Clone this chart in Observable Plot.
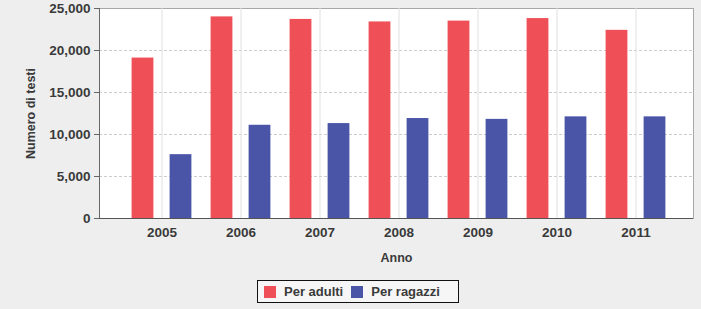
<!DOCTYPE html>
<html>
<head>
<meta charset="utf-8">
<script src="https://cdn.jsdelivr.net/npm/d3@7"></script>
<script src="https://cdn.jsdelivr.net/npm/@observablehq/plot@0.6"></script>
<style>
  html, body { margin: 0; padding: 0; background: #eeeeee; }
  body { width: 701px; height: 309px; overflow: hidden; font-family: "Liberation Sans", Arial, sans-serif; }
  #legend { position: absolute; left: 257px; top: 280px; width: 194px; height: 21px; border: 1.5px solid #111;
    background: #f6f6f6; display: flex; align-items: center; padding-left: 6px; gap: 8px;
    font-size: 13px; font-weight: bold; color: #3a3a3a; box-sizing: content-box; }
  #legend .item { display: flex; align-items: center; gap: 8px; white-space: nowrap; }
  #legend span.sw { display: inline-block; width: 12px; height: 12px; }
</style>
</head>
<body>
<div id="chart"></div>
<div id="legend"></div>
<script>
const years = ["2005", "2006", "2007", "2008", "2009", "2010", "2011"];
const series = ["Per adulti", "Per ragazzi"];
const adulti = [19100, 24000, 23700, 23400, 23500, 23800, 22400];
const ragazzi = [7600, 11100, 11300, 11900, 11800, 12100, 12100];
const colors = ["#ef4f57", "#4b55a7"];
const yTicks = [0, 5000, 10000, 15000, 20000, 25000];

const data = years.flatMap((y, i) => [
  {year: y, series: series[0], value: adulti[i]},
  {year: y, series: series[1], value: ragazzi[i]}
]);

const chart = Plot.plot({
  width: 701,
  height: 272,
  marginLeft: 99,
  marginRight: 8,
  marginTop: 8,
  marginBottom: 54,
  style: {background: "transparent", fontSize: "13px", color: "#3a3a3a", fontFamily: "'Liberation Sans', Arial, sans-serif", fontWeight: "bold"},
  x: {type: "band", domain: years, paddingInner: 0, paddingOuter: 0.25, align: 0.55, label: null},
  y: {domain: [0, 25000], label: null},
  color: {domain: series, range: colors},
  marks: [
    Plot.frame({fill: "white", stroke: "#a8a8a8"}),
    Plot.gridY(yTicks.slice(1, -1), {stroke: "#cccccc", strokeOpacity: 1, strokeDasharray: "3,2"}),
    Plot.gridX({stroke: "#e0e0e0", strokeOpacity: 1}),
    Plot.barY(data.filter(d => d.series === series[0]), {x: "year", y: "value", fill: "series", dx: -19, insetLeft: 28.6, insetRight: 28.6}),
    Plot.barY(data.filter(d => d.series === series[1]), {x: "year", y: "value", fill: "series", dx: 19, insetLeft: 28.6, insetRight: 28.6}),
    Plot.axisY({ticks: yTicks, tickFormat: d3.format(","), tickSize: 5, tickPadding: 4, fill: "#3a3a3a", stroke: "#666", fontSize: 13.5, label: null}),
    Plot.frame({anchor: "left", stroke: "#666"}),
    Plot.ruleY([0], {stroke: "#555"}),
    Plot.axisX({tickSize: 0, tickPadding: 9, fill: "#3a3a3a", fontSize: 13.5, label: null}),
    Plot.text(["Anno"], {frameAnchor: "bottom", dy: 43, fill: "#3a3a3a", fontSize: 12.5, fontWeight: "bold"}),
    Plot.text(["Numero di testi"], {frameAnchor: "left", textAnchor: "middle", dx: -69, rotate: -90, fill: "#3a3a3a", fontSize: 12.5, fontWeight: "bold"})
  ]
});
document.getElementById("chart").appendChild(chart);

const legend = document.getElementById("legend");
series.forEach((s, i) => {
  const item = document.createElement("div");
  item.className = "item";
  item.innerHTML = `<span class="sw" style="background:${colors[i]}"></span><span>${s}</span>`;
  legend.appendChild(item);
});
</script>
</body>
</html>
